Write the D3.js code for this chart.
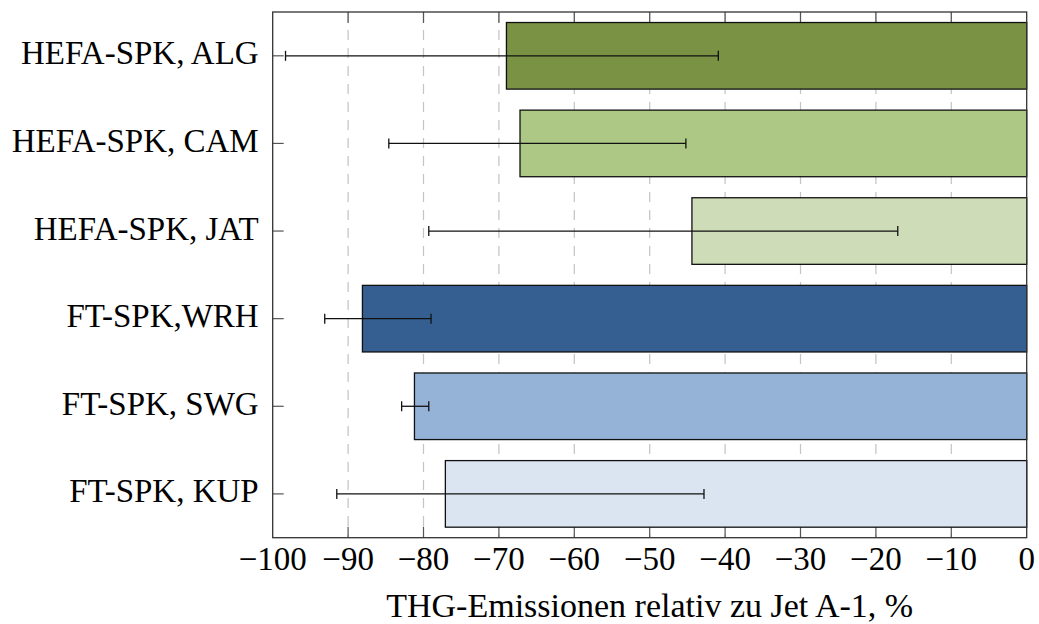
<!DOCTYPE html>
<html>
<head>
<meta charset="utf-8">
<title>THG-Emissionen</title>
<script src="https://cdn.jsdelivr.net/npm/d3@7"></script>
<style>
body { margin: 0; background: #fff; }
svg text { font-family: "Liberation Serif", "DejaVu Serif", serif; fill: #000; }
.grid line { stroke: #c4c4c4; stroke-width: 1.2; stroke-dasharray: 10,8; }
.tick line { stroke: #555; stroke-width: 1.2; }
</style>
</head>
<body>
<svg width="1039" height="624"></svg>
<script>

var categories = ["HEFA-SPK, ALG", "HEFA-SPK, CAM", "HEFA-SPK, JAT", "FT-SPK,WRH", "FT-SPK, SWG", "FT-SPK, KUP"];
var values   = [-69.0, -67.2, -44.4, -88.1, -81.2, -77.1];
var errLow   = [-98.3, -84.6, -79.3, -93.1, -82.9, -91.5];
var errHigh  = [-40.9, -45.2, -17.1, -79.0, -79.3, -42.8];
var colors   = ["#7a9243", "#adc785", "#cfdcb8", "#365f91", "#95b3d7", "#dbe5f1"];
var xTicks   = [-100, -90, -80, -70, -60, -50, -40, -30, -20, -10, 0];
var xLabel   = "THG-Emissionen relativ zu Jet A-1, %";

var svg = d3.select("svg"),
    margin = {top: 12, right: 12.3, bottom: 86.3, left: 272.7},
    width = svg.attr("width") - margin.left - margin.right,
    height = svg.attr("height") - margin.top - margin.bottom;

var g = svg.append("g")
    .attr("transform", "translate(" + margin.left + "," + margin.top + ")");

var x = d3.scaleLinear().domain([-100, 0]).range([0, width]);
var y = d3.scaleBand().domain(categories).range([0, height])
    .paddingInner(0.24).paddingOuter(0.12);

var data = categories.map(function(c, i) {
  return {name: c, value: values[i], lo: errLow[i], hi: errHigh[i], color: colors[i]};
});

// dashed vertical grid
g.append("g").attr("class", "grid")
  .selectAll("line").data(xTicks.slice(1, -1)).enter().append("line")
    .attr("x1", function(d) { return x(d); })
    .attr("x2", function(d) { return x(d); })
    .attr("y1", 0).attr("y2", height);

// inward ticks on all sides
var tl = 11;
var tk = g.append("g").attr("class", "tick");
tk.selectAll(".xb").data(xTicks.slice(1, -1)).enter().append("line")
    .attr("x1", function(d) { return x(d); }).attr("x2", function(d) { return x(d); })
    .attr("y1", height).attr("y2", height - tl);
tk.selectAll(".xt").data(xTicks.slice(1, -1)).enter().append("line")
    .attr("x1", function(d) { return x(d); }).attr("x2", function(d) { return x(d); })
    .attr("y1", 0).attr("y2", tl);
tk.selectAll(".yl").data(categories).enter().append("line")
    .attr("x1", 0).attr("x2", tl)
    .attr("y1", function(d) { return y(d) + y.bandwidth() / 2; })
    .attr("y2", function(d) { return y(d) + y.bandwidth() / 2; });

// bars
g.append("g").selectAll("rect").data(data).enter().append("rect")
    .attr("x", function(d) { return x(d.value); })
    .attr("y", function(d) { return y(d.name); })
    .attr("width", function(d) { return x(0) - x(d.value); })
    .attr("height", y.bandwidth())
    .attr("fill", function(d) { return d.color; })
    .attr("stroke", "#111")
    .attr("stroke-width", 1.3);

// error bars
var eb = g.append("g").attr("stroke", "#111").attr("stroke-width", 1.3)
  .selectAll("g").data(data).enter().append("g")
    .attr("transform", function(d) { return "translate(0," + (y(d.name) + y.bandwidth() / 2) + ")"; });
eb.append("line")
    .attr("x1", function(d) { return x(d.lo); })
    .attr("x2", function(d) { return x(d.hi); });
eb.append("line")
    .attr("x1", function(d) { return x(d.lo); }).attr("x2", function(d) { return x(d.lo); })
    .attr("y1", -5).attr("y2", 5);
eb.append("line")
    .attr("x1", function(d) { return x(d.hi); }).attr("x2", function(d) { return x(d.hi); })
    .attr("y1", -5).attr("y2", 5);

// frame
g.append("rect")
    .attr("width", width).attr("height", height)
    .attr("fill", "none").attr("stroke", "#333").attr("stroke-width", 1.3);

// y labels
g.append("g").selectAll("text").data(categories).enter().append("text")
    .attr("x", -14)
    .attr("y", function(d) { return y(d) + y.bandwidth() / 2; })
    .attr("dy", "0.26em")
    .attr("text-anchor", "end")
    .style("font-size", "33px")
    .text(function(d) { return d; });

// x tick labels
var fmt = d3.format("d");
g.append("g").selectAll("text").data(xTicks).enter().append("text")
    .attr("x", function(d) { return x(d); })
    .attr("y", height + 32.5)
    .attr("text-anchor", "middle")
    .style("font-size", "33px")
    .text(function(d) { return fmt(d); });

// axis label
g.append("text")
    .attr("x", width / 2)
    .attr("y", height + 79)
    .attr("text-anchor", "middle")
    .style("font-size", "34px")
    .text(xLabel);

</script>
</body>
</html>
